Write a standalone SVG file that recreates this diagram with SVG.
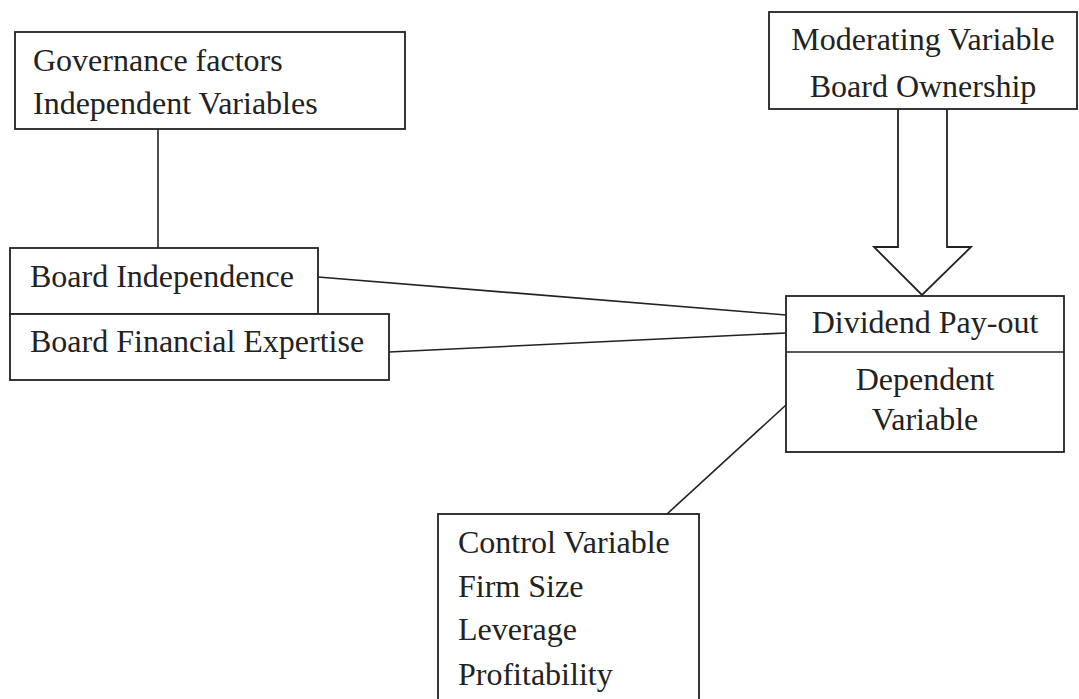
<svg xmlns="http://www.w3.org/2000/svg" width="1079" height="699" viewBox="0 0 1079 699">
<style>
.box{fill:#fff;stroke:#222;stroke-width:1.8}
.ln{fill:none;stroke:#222;stroke-width:1.6}
text{font-family:"Liberation Serif","Times New Roman",serif;font-size:32px;fill:#222}
.c{text-anchor:middle}
</style>
<rect width="1079" height="699" fill="#fff"/>
<g id="connectors">
<line class="ln" x1="158" y1="129" x2="158" y2="248"/>
<line class="ln" x1="318" y1="277" x2="786" y2="315"/>
<line class="ln" x1="389" y1="352" x2="786" y2="333"/>
<line class="ln" x1="667" y1="514" x2="786" y2="405"/>
<path class="box" d="M898,109 L898,247 L874,247 L922,295 L971,247 L947,247 L947,109"/>
</g>
<g id="governance">
<rect class="box" x="15" y="32" width="390" height="97"/>
<text x="33" y="71">Governance factors</text>
<text x="33" y="114">Independent Variables</text>
</g>
<g id="moderating">
<rect class="box" x="769" y="12" width="308" height="97"/>
<text class="c" x="923" y="50">Moderating Variable</text>
<text class="c" x="923" y="97">Board Ownership</text>
</g>
<g id="board-independence">
<rect class="box" x="10" y="248" width="308" height="66"/>
<text x="30" y="287">Board Independence</text>
</g>
<g id="board-financial-expertise">
<rect class="box" x="10" y="314" width="379" height="66"/>
<text x="30" y="352">Board Financial Expertise</text>
</g>
<g id="dividend">
<rect class="box" x="786" y="296" width="278" height="156"/>
<line class="ln" x1="786" y1="352" x2="1064" y2="352"/>
<text class="c" x="925" y="333">Dividend Pay-out</text>
<text class="c" x="925" y="390">Dependent</text>
<text class="c" x="925" y="430">Variable</text>
</g>
<g id="control">
<rect class="box" x="438" y="514" width="261" height="200"/>
<text x="458" y="553">Control Variable</text>
<text x="458" y="597">Firm Size</text>
<text x="458" y="640">Leverage</text>
<text x="458" y="685">Profitability</text>
</g>
</svg>
